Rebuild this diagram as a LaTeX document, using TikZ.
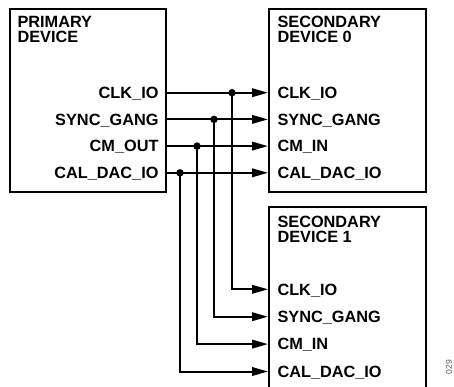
\documentclass[tikz,border=0pt]{standalone}
\usepackage{fontspec}
\setmainfont{Liberation Sans}
\usetikzlibrary{arrows.meta}
\begin{document}
\begin{tikzpicture}[x=1pt,y=-1pt,
  box/.style={draw, line width=2pt, inner sep=0pt, rectangle},
  lbl/.style={font=\bfseries\fontsize{16.3}{15}\selectfont, inner sep=0pt},
  sig/.style={line width=2pt, -{Triangle[length=16pt,width=8.5pt]}},
  dot/.style={circle, fill, inner sep=0pt, minimum size=7.5pt},
  figno/.style={rotate=90, font=\fontsize{8.5}{8.5}\selectfont, text=black!65, inner sep=0pt}]
\useasboundingbox (0,0) rectangle (454,386);
% boxes
\node[box, minimum width=156pt, minimum height=183pt] (prim) at (88,100.5) {};
\node[box, minimum width=157pt, minimum height=183pt] (sec0) at (347.5,100.5) {};
\node[box, minimum width=157pt, minimum height=185pt] (sec1) at (347.5,299.5) {};
% titles
\node[lbl, anchor=base west, align=left] (ptitle) at (17.3,42.3) {PRIMARY\\DEVICE};
\node[lbl, anchor=base west, align=left] (s0title) at (277.3,42.5) {SECONDARY\\DEVICE 0};
\node[lbl, anchor=base west, align=left] (s1title) at (277.3,242.7) {SECONDARY\\DEVICE 1};
% row coordinates
\coordinate (r1) at (0,92.7);
\coordinate (r2) at (0,119.4);
\coordinate (r3) at (0,146.1);
\coordinate (r4) at (0,172.8);
\coordinate (q1) at (0,289.3);
\coordinate (q2) at (0,316.7);
\coordinate (q3) at (0,344.1);
\coordinate (q4) at (0,371.5);
% primary labels
\node[lbl, anchor=base east] (pclk) at (158.7,98.5) {CLK\_IO};
\node[lbl, anchor=base east] (psync) at (158.7,125.2) {SYNC\_GANG};
\node[lbl, anchor=base east] (pcm) at (158.7,151.9) {CM\_OUT};
\node[lbl, anchor=base east] (pcal) at (158.7,178.6) {CAL\_DAC\_IO};
% secondary 0 labels
\node[lbl, anchor=base west] (aclk) at (277.3,98.5) {CLK\_IO};
\node[lbl, anchor=base west] (async) at (277.3,125.2) {SYNC\_GANG};
\node[lbl, anchor=base west] (acm) at (277.3,151.9) {CM\_IN};
\node[lbl, anchor=base west] (acal) at (277.3,178.6) {CAL\_DAC\_IO};
% secondary 1 labels
\node[lbl, anchor=base west] (bclk) at (277.3,295.1) {CLK\_IO};
\node[lbl, anchor=base west] (bsync) at (277.3,322.5) {SYNC\_GANG};
\node[lbl, anchor=base west] (bcm) at (277.3,349.9) {CM\_IN};
\node[lbl, anchor=base west] (bcal) at (277.3,377.3) {CAL\_DAC\_IO};
% horizontal signals
\draw[sig] (prim.east |- r1) -- (sec0.west |- r1);
\draw[sig] (prim.east |- r2) -- (sec0.west |- r2);
\draw[sig] (prim.east |- r3) -- (sec0.west |- r3);
\draw[sig] (prim.east |- r4) -- (sec0.west |- r4);
% junction dots
\node[dot] (d1) at (232,92.7) {};
\node[dot] (d2) at (214,119.4) {};
\node[dot] (d3) at (197,146.1) {};
\node[dot] (d4) at (180,172.8) {};
% branches to secondary 1
\draw[sig] (d1.center) |- (sec1.west |- q1);
\draw[sig] (d2.center) |- (sec1.west |- q2);
\draw[sig] (d3.center) |- (sec1.west |- q3);
\draw[sig] (d4.center) |- (sec1.west |- q4);
% figure number
\node[figno] (fig) at (449,367) {029};
\end{tikzpicture}
\end{document}
